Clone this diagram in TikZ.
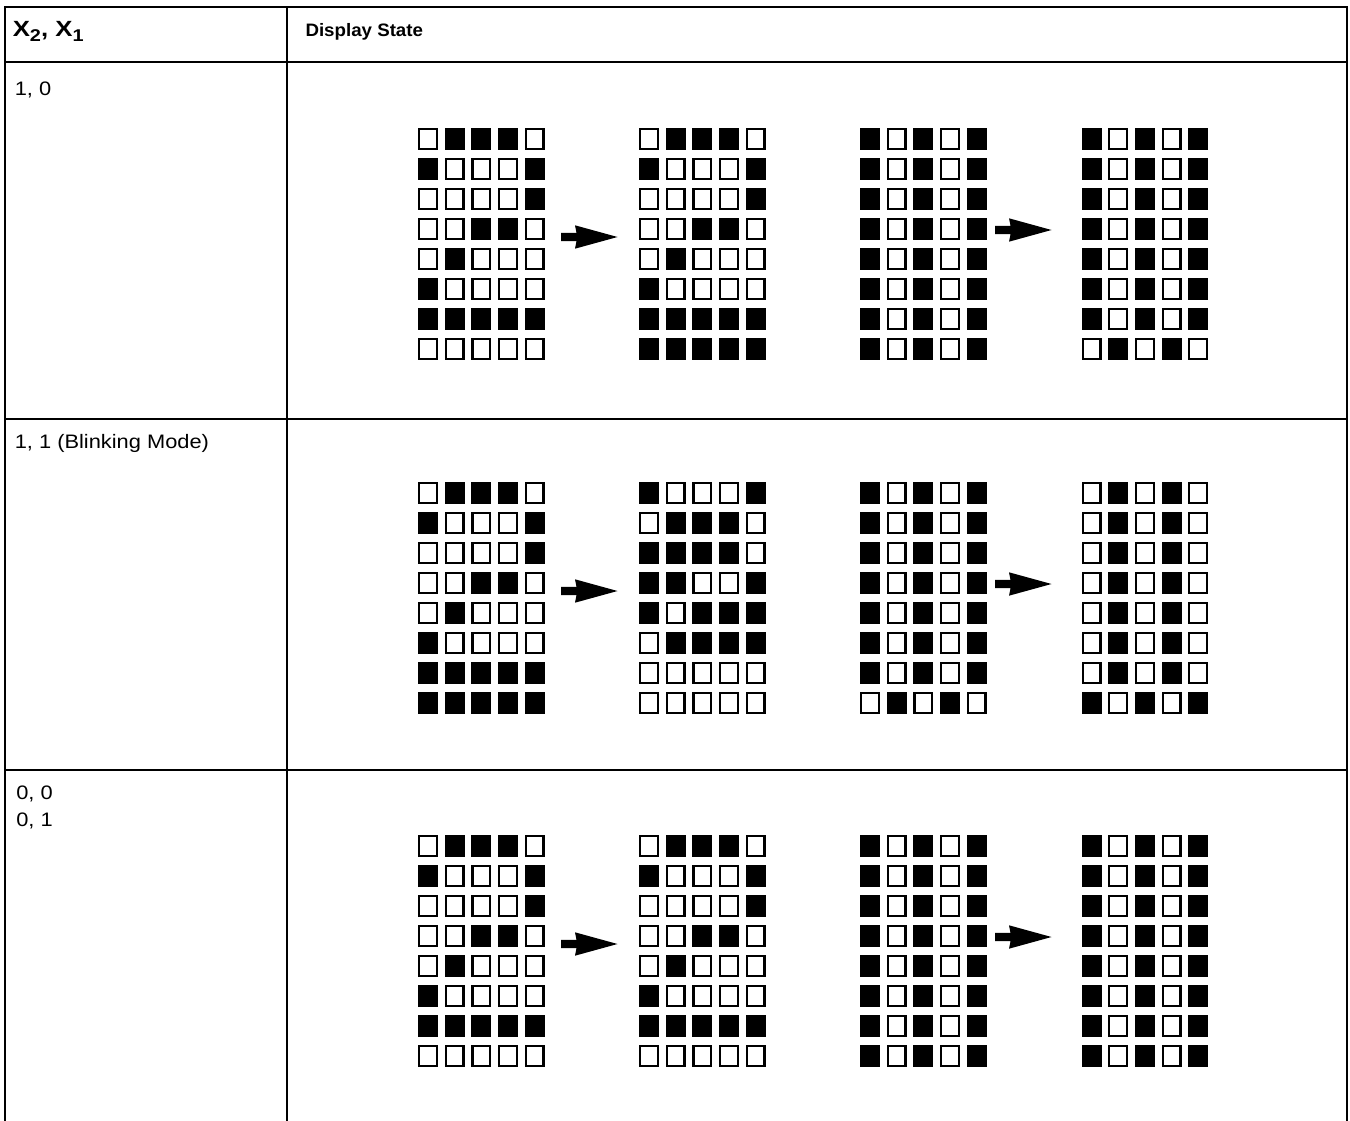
\documentclass[tikz,border=0pt]{standalone}
\usepackage{fontspec}
\setmainfont{Liberation Sans}
\usepackage{graphicx}
\newcommand\dotgrid[3]{%
  \begin{scope}[shift={(#1,#2)}]
    \foreach \rowbits [count=\r from 0] in #3 {
      \foreach \v [count=\c from 0] in \rowbits {
        \ifnum\v=1
          \fill (\c*26.67,\r*30) rectangle ++(20,22);
        \else
          \draw[cellline] (\c*26.67+1.1,\r*30+1.1) rectangle ++(17.8,19.8);
        \fi
      }
    }
  \end{scope}}
\newcommand\fatarrow[2]{%
  \fill (#1,#2-4.2) -- (#1+15.5,#2-4.2) -- (#1+14,#2-11.7) -- (#1+56.5,#2)
    -- (#1+14,#2+11.7) -- (#1+15.5,#2+4.2) -- (#1,#2+4.2) -- cycle;}
\def\gA{{0,1,1,1,0},{1,0,0,0,1},{0,0,0,0,1},{0,0,1,1,0},{0,1,0,0,0},{1,0,0,0,0},{1,1,1,1,1},{0,0,0,0,0}}
\def\gB{{0,1,1,1,0},{1,0,0,0,1},{0,0,0,0,1},{0,0,1,1,0},{0,1,0,0,0},{1,0,0,0,0},{1,1,1,1,1},{1,1,1,1,1}}
\def\gC{{1,0,0,0,1},{0,1,1,1,0},{1,1,1,1,0},{1,1,0,0,1},{1,0,1,1,1},{0,1,1,1,1},{0,0,0,0,0},{0,0,0,0,0}}
\def\gD{{1,0,1,0,1},{1,0,1,0,1},{1,0,1,0,1},{1,0,1,0,1},{1,0,1,0,1},{1,0,1,0,1},{1,0,1,0,1},{1,0,1,0,1}}
\def\gE{{1,0,1,0,1},{1,0,1,0,1},{1,0,1,0,1},{1,0,1,0,1},{1,0,1,0,1},{1,0,1,0,1},{1,0,1,0,1},{0,1,0,1,0}}
\def\gF{{0,1,0,1,0},{0,1,0,1,0},{0,1,0,1,0},{0,1,0,1,0},{0,1,0,1,0},{0,1,0,1,0},{0,1,0,1,0},{1,0,1,0,1}}
\newcommand\bodytxt[1]{\scalebox{1.12}[1]{\fontsize{19.5}{22}\selectfont #1}}
\begin{document}
\begin{tikzpicture}[x=1pt,y=-1pt,
  rule/.style={line width=2pt},
  cellline/.style={line width=2.2pt},
  txt/.style={inner sep=0pt,outer sep=0pt,anchor=base west}]
\useasboundingbox[fill=white] (0,0) rectangle (1350,1121);
% table rules
\draw[rule] (5,1122) -- (5,7.3) -- (1346.7,7.3) -- (1346.7,1122);
\draw[rule] (287,7.3) -- (287,1122);
\draw[rule] (5,62.3) -- (1346.7,62.3);
\draw[rule] (5,419) -- (1346.7,419);
\draw[rule] (5,770) -- (1346.7,770);
% header texts
\node[txt] (hx) at (12.8,37) {\scalebox{1.17}[1]{\fontsize{22}{24}\selectfont\bfseries X\raisebox{-5pt}{\fontsize{17}{18}\selectfont 2}, X\raisebox{-5pt}{\fontsize{17}{18}\selectfont 1}}};
\node[txt] (hd) at (305.5,36.5) {\scalebox{1.04}[1]{\fontsize{18}{20}\selectfont\bfseries Display State}};
% row labels
\node[txt] (r1) at (14.8,96) {\bodytxt{1, 0}};
\node[txt] (r2) at (14.8,448) {\bodytxt{1, 1 (Blinking Mode)}};
\node[txt] (r3a) at (16.3,799.3) {\bodytxt{0, 0}};
\node[txt] (r3b) at (16.3,826.7) {\bodytxt{0, 1}};
% row 1
\dotgrid{418}{128}{\gA}
\dotgrid{639}{128}{\gB}
\dotgrid{860}{128}{\gD}
\dotgrid{1081.5}{128}{\gE}
\fatarrow{561}{237}
\fatarrow{995}{230}
% row 2
\dotgrid{418}{482}{\gB}
\dotgrid{639}{482}{\gC}
\dotgrid{860}{482}{\gE}
\dotgrid{1081.5}{482}{\gF}
\fatarrow{561}{591}
\fatarrow{995}{584}
% row 3
\dotgrid{418}{835}{\gA}
\dotgrid{639}{835}{\gA}
\dotgrid{860}{835}{\gD}
\dotgrid{1081.5}{835}{\gD}
\fatarrow{561}{944}
\fatarrow{995}{937}
\end{tikzpicture}
\end{document}
